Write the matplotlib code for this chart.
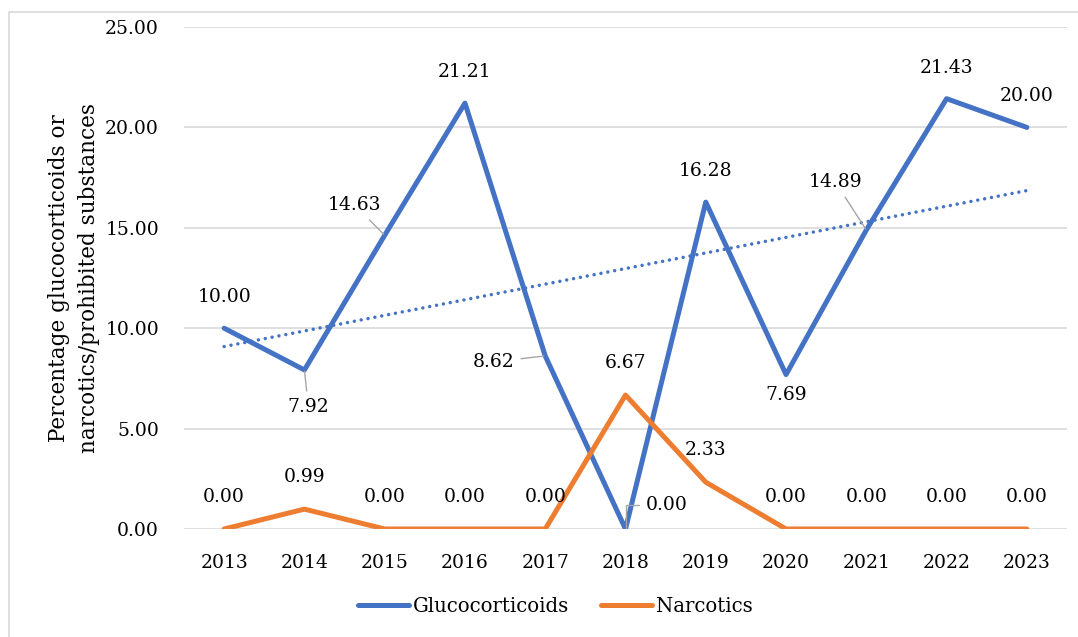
import numpy as np
import matplotlib
matplotlib.use("Agg")
import matplotlib.pyplot as plt
from matplotlib.patches import Rectangle

plt.rcParams['font.family'] = ['DejaVu Serif']

years = ['2013', '2014', '2015', '2016', '2017', '2018', '2019', '2020', '2021', '2022', '2023']
glucocorticoids = [10.00, 7.92, 14.63, 21.21, 8.62, 0.00, 16.28, 7.69, 14.89, 21.43, 20.00]
narcotics = [0.00, 0.99, 0.00, 0.00, 0.00, 6.67, 2.33, 0.00, 0.00, 0.00, 0.00]
y_ticks = [0, 5, 10, 15, 20, 25]

blue = '#4472C4'
orange = '#ED7D31'
grid = '#D9D9D9'
leader = '#A6A6A6'
fs = 13.5

W, H = 1078, 637
fig = plt.figure(figsize=(W / 100, H / 100), dpi=100)
ax = fig.add_axes([184 / W, 1 - 529 / H, 883 / W, 502 / H])

# outer chart border (only left/top are visible in the reference)
fig.patches.append(Rectangle((9 / W, -0.1), 1.2, 1 - 12 / H + 0.1, transform=fig.transFigure,
                             fill=False, edgecolor=grid, lw=1.2))

x = np.arange(len(years))
ax.plot(x, glucocorticoids, color=blue, lw=3.6, solid_joinstyle='round',
        solid_capstyle='round', label='Glucocorticoids', zorder=3)
ax.plot(x, narcotics, color=orange, lw=3.6, solid_joinstyle='round',
        solid_capstyle='round', label='Narcotics', zorder=3)

# linear trend for glucocorticoids
k, b = np.polyfit(x, glucocorticoids, 1)
ax.plot(x, k * x + b, color=blue, lw=2.5, linestyle=(0, (0.01, 2.0)),
        dash_capstyle='round', zorder=2)

ax.set_xlim(-0.5, len(years) - 0.5)
ax.set_ylim(0, 25)
ax.set_yticks(y_ticks)
ax.set_yticklabels(['%.2f' % v for v in y_ticks], fontsize=fs)
ax.set_xticks(x)
ax.set_xticklabels(years, fontsize=fs)
ax.tick_params(axis='y', length=0, pad=18)
ax.tick_params(axis='x', length=0, pad=18)
for s in ax.spines.values():
    s.set_visible(False)
ax.yaxis.grid(True, color=grid, lw=1.2)
ax.set_axisbelow(True)

# data labels: offsets in pixels, default is above the point
gluco_offsets = {1: (4, -37), 2: (-30, 30), 4: (-52, -6), 5: (41, 24), 7: (0, -20), 8: (-31, 48)}
gluco_leaders = {1: 'arc3', 2: 'arc3', 4: 'arc3', 5: 'angle,angleA=0,angleB=90,rad=0', 8: 'arc3'}

for i, v in enumerate(glucocorticoids):
    off = gluco_offsets.get(i, (0, 31))
    arrow = None
    if i in gluco_leaders:
        arrow = dict(arrowstyle='-', color=leader, lw=1, shrinkA=3, shrinkB=1,
                     connectionstyle=gluco_leaders[i])
    ax.annotate('%.2f' % v, (i, v), xytext=off, textcoords='offset pixels',
                ha='center', va='center', fontsize=fs, arrowprops=arrow, zorder=4)

for i, v in enumerate(narcotics):
    ax.annotate('%.2f' % v, (i, v), xytext=(0, 32), textcoords='offset pixels',
                ha='center', va='center', fontsize=fs, zorder=4)

fig.text(74 / W, 1 - 278 / H, 'Percentage glucocorticoids or\nnarcotics/prohibited substances',
         rotation=90, ha='center', va='center', multialignment='center',
         fontsize=15.5, linespacing=1.5)

fig.legend(loc='center', bbox_to_anchor=(555 / W, 1 - 606 / H), ncol=2, frameon=False,
           fontsize=14.2, handlelength=2.6, handletextpad=0.2, columnspacing=1.6)

fig.savefig('out.png', dpi=100)
